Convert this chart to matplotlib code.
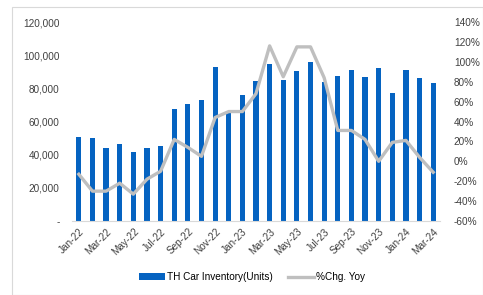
import matplotlib
matplotlib.use("Agg")
import matplotlib.pyplot as plt
from matplotlib.patches import Rectangle
from matplotlib.ticker import FuncFormatter

plt.rcParams['font.family'] = ['Liberation Sans', 'DejaVu Sans']

months = ["Jan-22","Feb-22","Mar-22","Apr-22","May-22","Jun-22","Jul-22","Aug-22","Sep-22",
          "Oct-22","Nov-22","Dec-22","Jan-23","Feb-23","Mar-23","Apr-23","May-23","Jun-23",
          "Jul-23","Aug-23","Sep-23","Oct-23","Nov-23","Dec-23","Jan-24","Feb-24","Mar-24"]
inventory = [50700, 50000, 44000, 46500, 41600, 44000, 45000, 67500, 70500,
             73000, 93000, 65000, 76000, 84500, 94700, 85000, 90500, 96000,
             84000, 87500, 91000, 87000, 92000, 77000, 91000, 86500, 83500]
yoy = [-13, -30, -30, -22, -33, -18, -10, 22, 14,
       5, 44, 50, 50, 68, 116, 85, 115, 115,
       84, 31, 31, 22, 0, 19, 21, 4, -11]

fig = plt.figure(figsize=(4.83, 2.95), dpi=100)
fig.patches.append(Rectangle((12/483, 0), 1 - 12/483, 1 - 7/295, transform=fig.transFigure,
                             fill=False, edgecolor='#D9D9D9', linewidth=0.8))
ax = fig.add_axes([72/483, 74/295, 368/483, 199/295])
x = list(range(len(months)))
bars = ax.bar(x, inventory, width=0.38, color='#0563C1', label='TH Car Inventory(Units)', zorder=2)
ax.set_xlim(-0.5, len(months) - 0.5)
ax.set_ylim(0, 120000)
ax.set_yticks(range(0, 120001, 20000))
ax.yaxis.set_major_formatter(FuncFormatter(lambda v, p: '-' if v == 0 else f'{int(v):,}'))
ax.set_xticks(x[::2])
ax.set_xticklabels(months[::2], rotation=45, ha='right', rotation_mode='anchor')
for s in ['top', 'right', 'left']:
    ax.spines[s].set_visible(False)
ax.spines['bottom'].set_color('#D9D9D9')
ax.tick_params(axis='both', length=0, labelsize=7.2, colors='#404040')
ax.tick_params(axis='y', pad=9)
ax.tick_params(axis='x', pad=4)

ax2 = ax.twinx()
line, = ax2.plot(x, yoy, color='#BFBFBF', linewidth=2.4, label='%Chg. Yoy', zorder=3)
ax2.set_ylim(-60, 140)
ax2.set_yticks(range(-60, 141, 20))
ax2.yaxis.set_major_formatter(FuncFormatter(lambda v, p: f'{int(v)}%'))
for s in ['top', 'right', 'left', 'bottom']:
    ax2.spines[s].set_visible(False)
ax2.tick_params(axis='y', length=0, labelsize=7.2, colors='#404040', pad=10)

fig.legend([bars, line], ['TH Car Inventory(Units)', '%Chg. Yoy'], loc='center',
           bbox_to_anchor=(252/483, 18/295), ncol=2, frameon=False, fontsize=7.2,
           handlelength=2.6, columnspacing=1.5, handletextpad=0.2)

fig.savefig('out.png', dpi=100)
